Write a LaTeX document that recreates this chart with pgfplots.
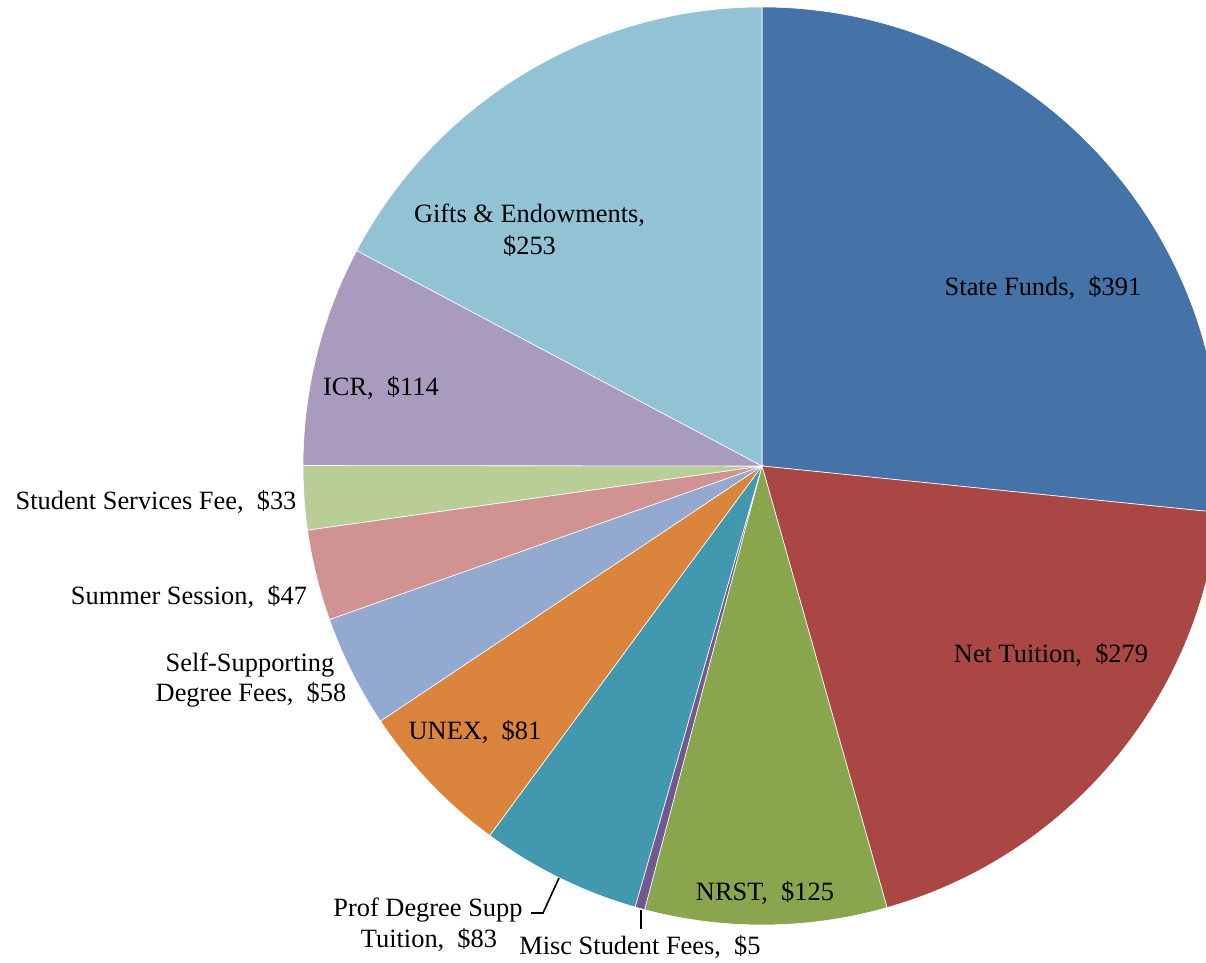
\documentclass[border=0pt]{standalone}
\usepackage{fontspec}
\setmainfont{Liberation Serif}
\usepackage{pgfplots}
\usepackage{pgfplotstable}
\pgfplotsset{compat=1.18}
\definecolor{c0}{HTML}{4572A7}
\definecolor{c1}{HTML}{AA4643}
\definecolor{c2}{HTML}{89A54E}
\definecolor{c3}{HTML}{71588F}
\definecolor{c4}{HTML}{4198AF}
\definecolor{c5}{HTML}{DB843D}
\definecolor{c6}{HTML}{93A9CF}
\definecolor{c7}{HTML}{D19392}
\definecolor{c8}{HTML}{B9CD96}
\definecolor{c9}{HTML}{A99BBD}
\definecolor{c10}{HTML}{92C3D4}
\pgfplotstableread{
value
391
279
125
5
83
81
58
47
33
114
253
}\piedata
\begin{document}
\begin{tikzpicture}
\fontsize{13.2}{15.5}\selectfont
\pgfplotstablegetrowsof{\piedata}
\pgfmathtruncatemacro\lastrow{\pgfplotsretval-1}
\def\total{0}
\pgfplotsforeachungrouped \i in {0,...,\lastrow}{%
  \pgfplotstablegetelem{\i}{value}\of\piedata
  \pgfmathsetmacro\total{\total+\pgfplotsretval}%
}
\begin{axis}[scale only axis, width=603pt, height=481.5pt,
  xmin=0, xmax=1206, ymin=0, ymax=963, hide axis, clip=true]
\def\cum{0}
\pgfplotsforeachungrouped \i in {0,...,\lastrow}{%
  \pgfplotstablegetelem{\i}{value}\of\piedata
  \pgfmathsetmacro\startang{90-360*(\cum/\total)}%
  \pgfmathsetmacro\cum{\cum+\pgfplotsretval}%
  \pgfmathsetmacro\endang{90-360*(\cum/\total)}%
  \edef\temp{\noexpand\fill[fill=c\i,draw=white,line width=0.3pt] (axis cs:762,497) -- ++(\startang:229.5pt) arc[start angle=\startang,end angle=\endang,radius=229.5pt] -- cycle;}%
  \temp
}
% leader lines
\draw[black, line width=0.8pt] (axis cs:640.7,53) -- (axis cs:640.7,34);
\draw[black, line width=0.8pt] (axis cs:559,85) -- (axis cs:543,50) -- (axis cs:531,50);
% labels
\node[anchor=base] at (axis cs:1043,667) {State Funds,~~\$391};
\node[anchor=base] at (axis cs:1051,300) {Net Tuition,~~\$279};
\node[anchor=base] at (axis cs:765,62) {NRST,~~\$125};
\node[anchor=base] at (axis cs:640,8) {Misc Student Fees,~~\$5};
\node[anchor=base] at (axis cs:428,46) {Prof Degree Supp};
\node[anchor=base] at (axis cs:429,15) {Tuition,~~\$83};
\node[anchor=base] at (axis cs:475,223) {UNEX,~~\$81};
\node[anchor=base] at (axis cs:250,291) {Self-Supporting};
\node[anchor=base] at (axis cs:251,261) {Degree Fees,~~\$58};
\node[anchor=base] at (axis cs:189,358) {Summer Session,~~\$47};
\node[anchor=base] at (axis cs:156,453) {Student Services Fee,~~\$33};
\node[anchor=base] at (axis cs:381,567) {ICR,~~\$114};
\node[anchor=base] at (axis cs:529.5,740) {Gifts \& Endowments,};
\node[anchor=base] at (axis cs:529.5,708) {\$253};
\end{axis}
\pgfresetboundingbox
\useasboundingbox (current axis.south west) rectangle (current axis.north east);
\end{tikzpicture}
\end{document}
